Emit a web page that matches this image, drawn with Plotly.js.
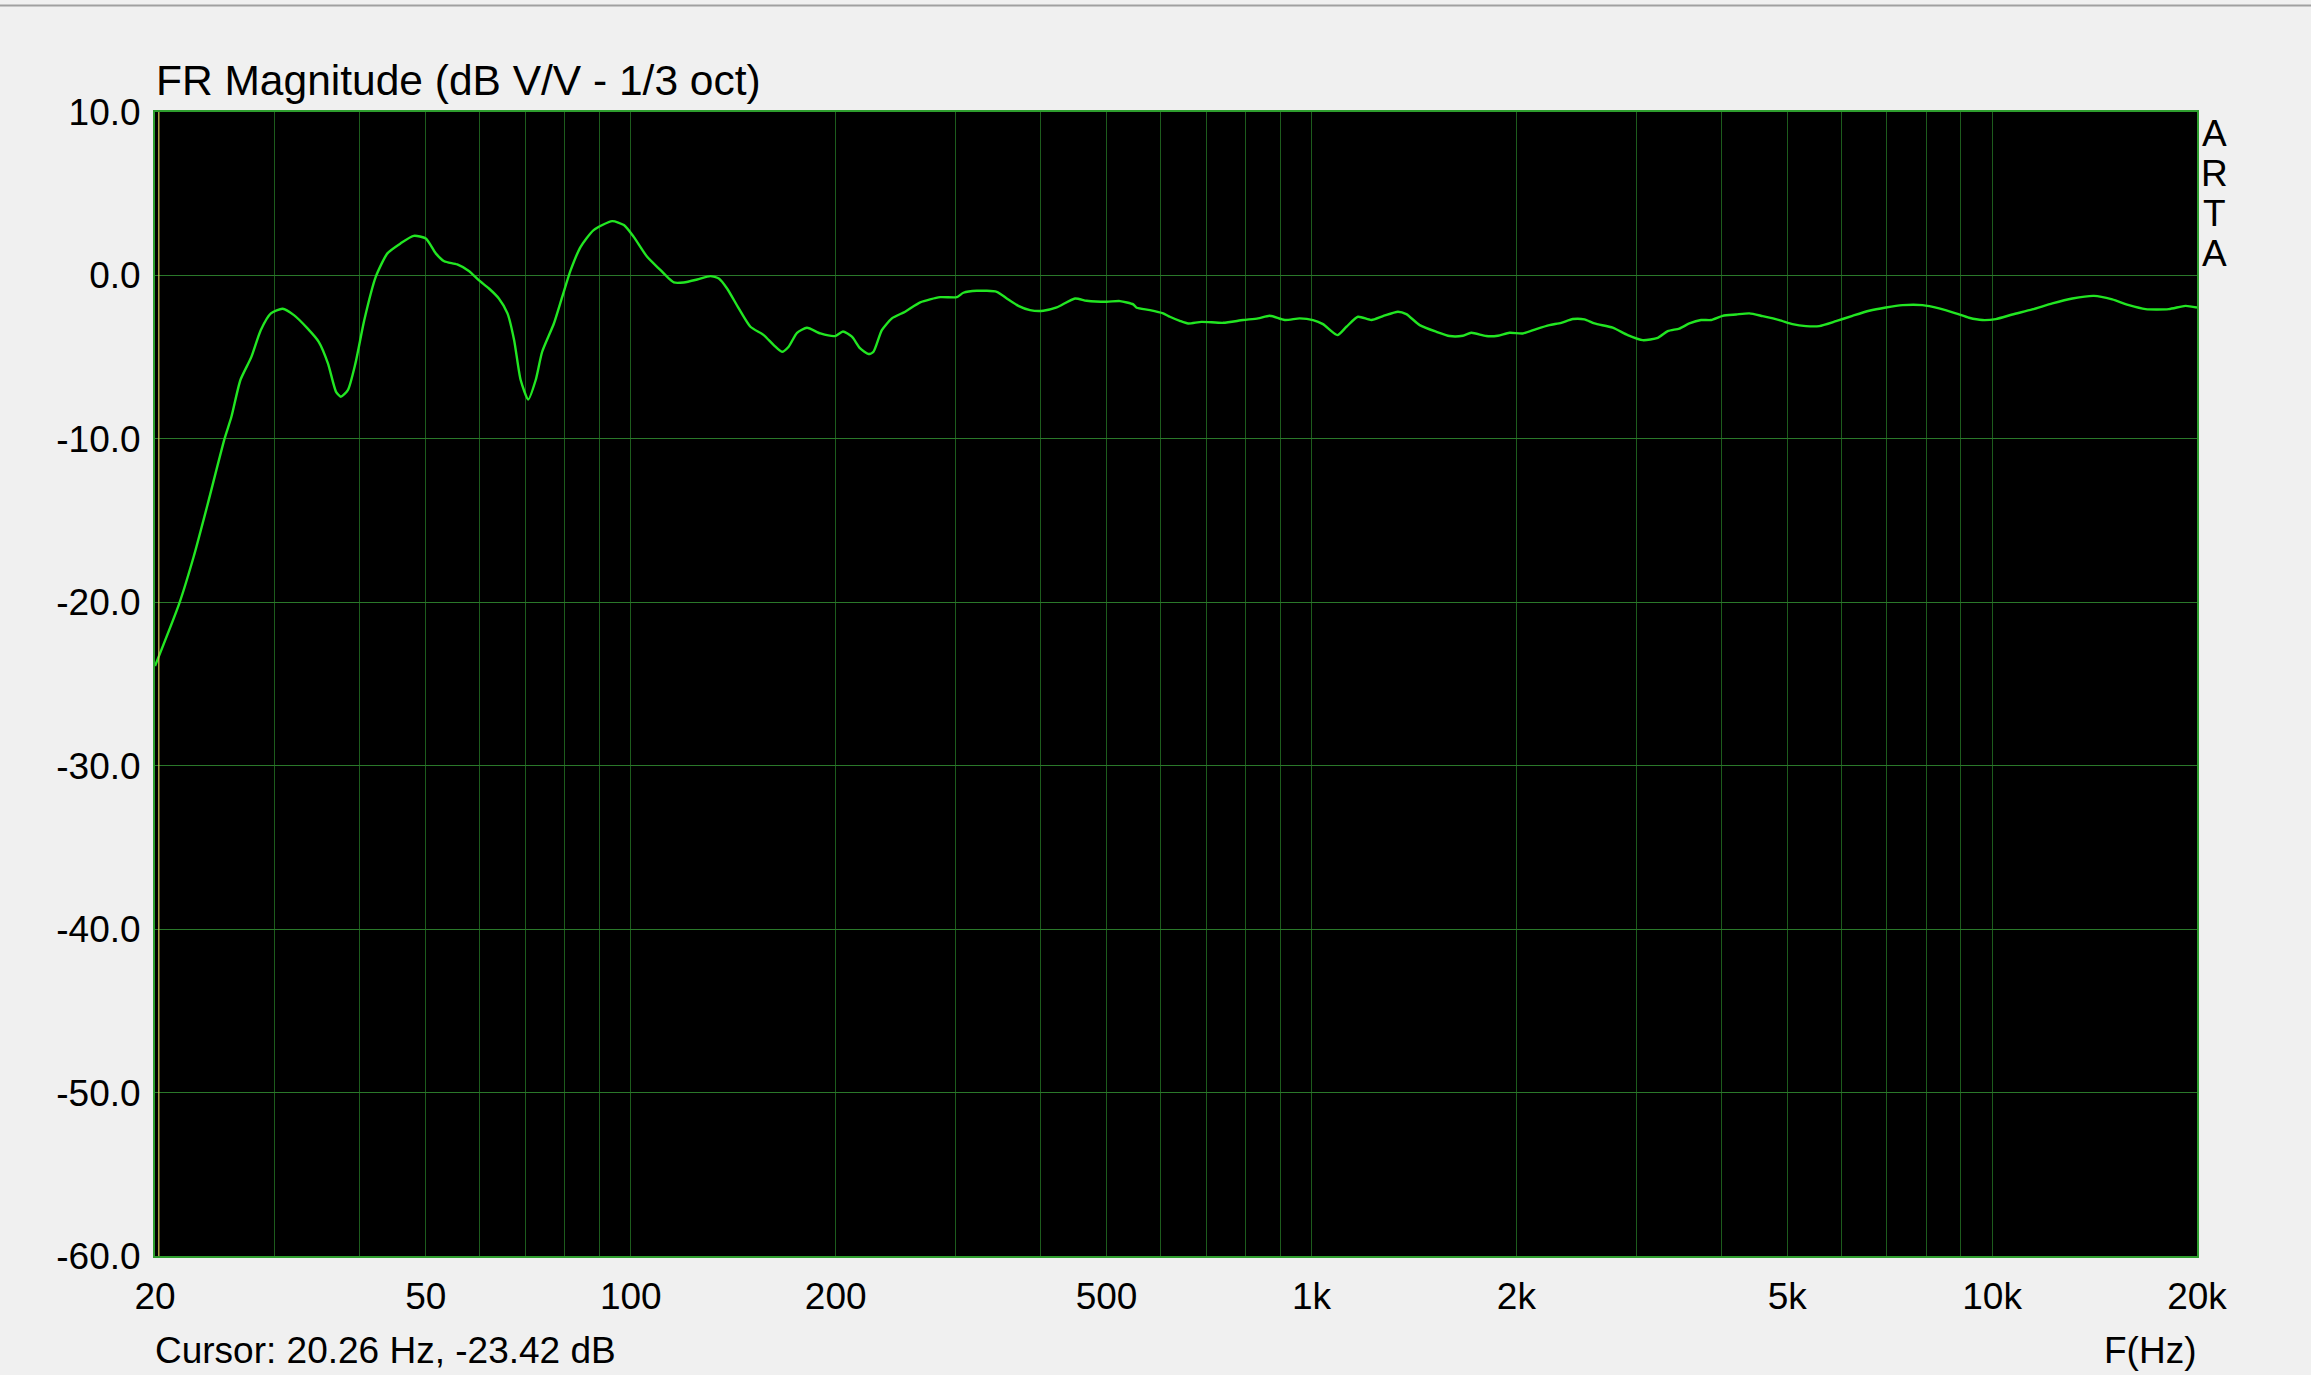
<!DOCTYPE html>
<html>
<head>
<meta charset="utf-8">
<script src="https://cdn.plot.ly/plotly-3.0.1.min.js"></script>
<style>
html,body{margin:0;padding:0;background:#f0f0f0;}
#chart{width:2311px;height:1375px;}
</style>
</head>
<body>
<div id="chart"></div>
<script>
// ---- data ----
const freqHz = [20, 21.7, 22.8, 23.9, 25.3, 25.9, 26.7, 27.7, 28.6, 29.6, 30.8, 32.0, 33.5, 34.8, 35.9, 36.9, 37.5, 38.4, 39.4, 40.6,
  42.2, 43.9, 45.9, 48.0, 50.0, 51.7, 53.2, 55.6, 57.9, 59.8, 61.9, 64.0, 65.9, 67.4, 68.9, 70.7, 72.5, 74.1, 77.1, 79.3,
  81.6, 84.4, 88.2, 93.9, 97.7, 101.0, 105.7, 110.6, 113.7, 115.7, 119.6, 125.2, 130.9, 134.7, 138.5, 144.1, 149.9, 156.8, 162.2, 166.8,
  170.6, 175.5, 181.5, 189.9, 199.7, 205.0, 211.3, 217.3, 223.5, 227.3, 233.8, 241.9, 253.0, 266.2, 284.8, 301.3, 308.1, 322.4, 344.9, 356.8,
  371.0, 386.0, 403.7, 422.5, 449.4, 467.5, 500.3, 523.2, 547.3, 553.6, 579.0, 605.6, 619.5, 640.7, 659.0, 689.6, 741.9, 793.6, 834.9, 868.6,
  913.8, 961.2, 1005.6, 1040, 1092, 1125.7, 1170.6, 1224.9, 1273.9, 1340.1, 1378.6, 1442.2, 1525.9, 1596, 1669, 1717, 1806, 1879, 1954, 2044,
  2139, 2237, 2328, 2421, 2518, 2605, 2771, 2915, 3067, 3227, 3338, 3472, 3591, 3736, 3865, 4019, 4206, 4399, 4601, 4868,
  5091, 5328, 5572, 5896, 6236, 6598, 6981, 7384, 7902, 8359, 8844, 9250, 9675, 10125, 10710, 11456, 12261, 13117, 14116, 15015,
  15887, 16809, 18178, 19236, 20000];
const magDb = [-23.9, -20.1, -17.2, -14.0, -10.0, -8.65, -6.4, -5.0, -3.35, -2.32, -2.04, -2.43, -3.24, -4.06, -5.38, -7.12, -7.42, -7.02, -5.38, -2.73,
  -0.09, 1.35, 1.96, 2.42, 2.26, 1.35, 0.87, 0.67, 0.26, -0.29, -0.80, -1.41, -2.32, -3.96, -6.4, -7.59, -6.4, -4.67, -2.94, -1.31,
  0.32, 1.75, 2.77, 3.32, 3.08, 2.36, 1.14, 0.32, -0.18, -0.43, -0.43, -0.25, -0.04, -0.19, -0.80, -2.02, -3.14, -3.65, -4.26, -4.67,
  -4.36, -3.51, -3.20, -3.55, -3.71, -3.43, -3.75, -4.47, -4.81, -4.67, -3.35, -2.63, -2.22, -1.65, -1.33, -1.33, -1.06, -0.94, -1.00, -1.41,
  -1.86, -2.12, -2.16, -1.96, -1.41, -1.55, -1.61, -1.57, -1.77, -1.98, -2.12, -2.32, -2.53, -2.78, -2.94, -2.84, -2.90, -2.73, -2.63, -2.47,
  -2.73, -2.63, -2.73, -2.98, -3.65, -3.14, -2.53, -2.73, -2.49, -2.22, -2.37, -3.04, -3.45, -3.71, -3.69, -3.51, -3.71, -3.69, -3.51, -3.55,
  -3.28, -3.04, -2.90, -2.67, -2.69, -2.94, -3.20, -3.65, -3.96, -3.82, -3.41, -3.25, -2.94, -2.73, -2.73, -2.47, -2.39, -2.32, -2.49, -2.73,
  -2.98, -3.10, -3.10, -2.80, -2.47, -2.16, -1.96, -1.82, -1.82, -2.02, -2.32, -2.59, -2.73, -2.67, -2.39, -2.08, -1.71, -1.41, -1.25, -1.47,
  -1.82, -2.06, -2.06, -1.86, -1.96];

const gridHz = [20, 30, 40, 50, 60, 70, 80, 90, 100, 200, 300, 400, 500, 600, 700, 800, 900, 1000,
  2000, 3000, 4000, 5000, 6000, 7000, 8000, 9000, 10000, 20000];
const gridLabels = {20: '20', 50: '50', 100: '100', 200: '200', 500: '500', 1000: '1k', 2000: '2k', 5000: '5k', 10000: '10k', 20000: '20k'};
const dbTicks = [10, 0, -10, -20, -30, -40, -50, -60];
const dbTickText = ['10.0', '0.0', '-10.0', '-20.0', '-30.0', '-40.0', '-50.0', '-60.0'];
const freqRange = [20, 20000];
const dbRange = [-60, 10];

const titleText = 'FR Magnitude (dB V/V - 1/3 oct)';
const xAxisName = 'F(Hz)';
const brandLetters = ['A', 'R', 'T', 'A'];
const cursorHz = 20.26;
const cursorDb = -23.42;

// ---- drawing ----
const FONT = '"Liberation Sans", Arial, sans-serif';
const W = 2311, H = 1375;
const M = {l: 155, r: 114, t: 112, b: 119};
const PW = W - M.l - M.r, PH = H - M.t - M.b;
const px2paperX = (px) => (px - M.l) / PW;
const px2paperY = (py) => (H - M.b - py) / PH;

const trace = {
  x: freqHz, y: magDb, type: 'scatter', mode: 'lines',
  line: {color: '#22e622', width: 2.4, shape: 'spline', smoothing: 0.6},
  hoverinfo: 'skip'
};

const annotations = [
  {text: titleText, xref: 'paper', yref: 'paper', x: px2paperX(154), y: px2paperY(80),
   xanchor: 'left', yanchor: 'middle', showarrow: false, font: {family: FONT, size: 42.5, color: '#000'}},
  {text: 'Cursor: ' + cursorHz.toFixed(2) + ' Hz, ' + cursorDb.toFixed(2) + ' dB', xref: 'paper', yref: 'paper',
   x: px2paperX(153), y: px2paperY(1350), xanchor: 'left', yanchor: 'middle', showarrow: false,
   font: {family: FONT, size: 37, color: '#000'}},
  {text: xAxisName, xref: 'paper', yref: 'paper', x: px2paperX(2198), y: px2paperY(1350),
   xanchor: 'right', yanchor: 'middle', showarrow: false, font: {family: FONT, size: 37, color: '#000'}}
];
brandLetters.forEach((ch, i) => {
  annotations.push({text: ch, xref: 'paper', yref: 'paper', x: px2paperX(2214), y: px2paperY(133.5 + i * 40),
    xanchor: 'center', yanchor: 'middle', showarrow: false, font: {family: FONT, size: 37, color: '#000'}});
});

const shapes = [
  {type: 'line', xref: 'x', yref: 'paper', x0: cursorHz, x1: cursorHz, y0: 0, y1: 1,
   line: {color: '#d8cf55', width: 1.2}},
  {type: 'line', xref: 'paper', yref: 'paper', x0: px2paperX(0), x1: px2paperX(W), y0: px2paperY(5.5), y1: px2paperY(5.5),
   line: {color: '#a0a0a0', width: 2}}
];

const layout = {
  width: W, height: H,
  paper_bgcolor: '#f0f0f0', plot_bgcolor: '#000000',
  margin: {l: M.l, r: M.r, t: M.t, b: M.b, pad: 0},
  showlegend: false,
  font: {family: FONT, color: '#000'},
  xaxis: {
    type: 'log', range: [Math.log10(freqRange[0]), Math.log10(freqRange[1])],
    tickmode: 'array', tickvals: gridHz, ticktext: gridHz.map(v => gridLabels[v] || ''),
    showgrid: true, gridcolor: '#1d5c1d', gridwidth: 1,
    showline: true, linecolor: '#2e9e2e', linewidth: 2, mirror: true,
    ticks: '', zeroline: false, fixedrange: true,
    tickfont: {family: FONT, size: 37, color: '#000'}, ticklabelstandoff: 7
  },
  yaxis: {
    range: dbRange, tickmode: 'array', tickvals: dbTicks, ticktext: dbTickText,
    showgrid: true, gridcolor: '#2a782a', gridwidth: 1,
    showline: true, linecolor: '#2e9e2e', linewidth: 2, mirror: true,
    ticks: '', zeroline: false, fixedrange: true,
    tickfont: {family: FONT, size: 37, color: '#000'}, ticklabelstandoff: 5
  },
  annotations: annotations,
  shapes: shapes
};

Plotly.newPlot('chart', [trace], layout, {staticPlot: true, displayModeBar: false});
</script>
</body>
</html>
